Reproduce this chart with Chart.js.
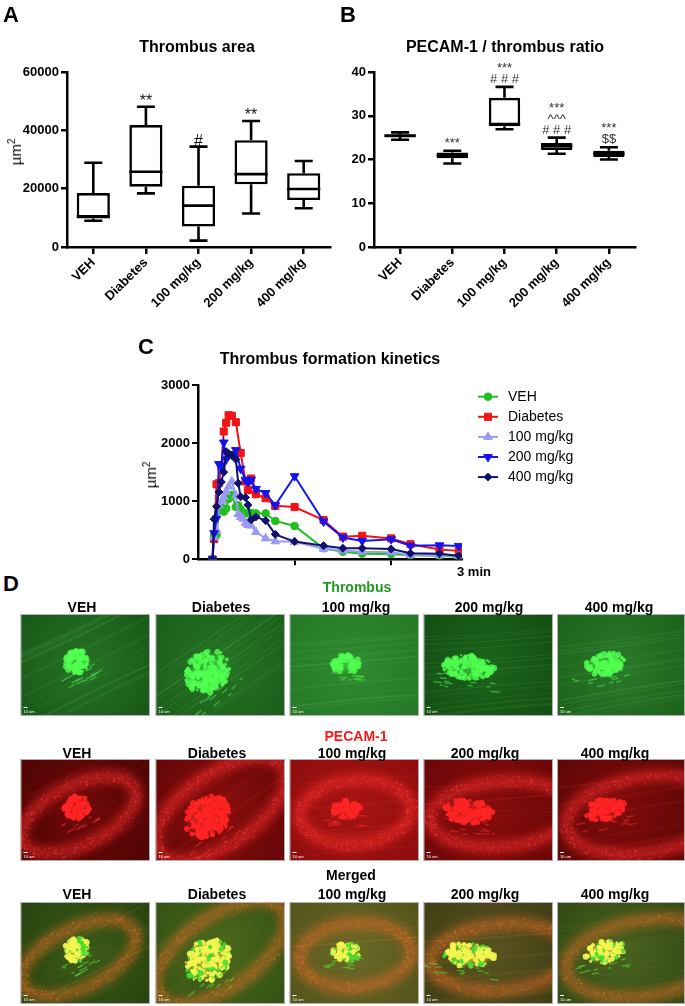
<!DOCTYPE html>
<html><head><meta charset="utf-8">
<script src="https://cdn.jsdelivr.net/npm/chart.js@4.4.1/dist/chart.umd.min.js"></script>
<style>
body{margin:0;width:685px;height:1006px;background:#fff;position:relative;overflow:hidden;font-family:"Liberation Sans",Arial,sans-serif;}
.t{position:absolute;white-space:nowrap;color:#000;line-height:1;transform:translate(-50%,-50%);}
.big{font-weight:bold;font-size:22px;}
.ttl{font-weight:bold;font-size:16px;}
.yt{font-size:15px;transform:translate(-50%,-50%) rotate(-90deg);}
.yt sup{font-size:10px;}
.col{font-weight:bold;font-size:14px;}
canvas{position:absolute;}
</style></head><body>
<canvas id="cA" width="340" height="340" style="left:0;top:0"></canvas>
<canvas id="cB" width="345" height="340" style="left:340px;top:0"></canvas>
<canvas id="cC" width="500" height="245" style="left:130px;top:335px"></canvas>
<canvas id="imgs" width="685" height="406" style="left:0;top:600px"></canvas>

<div class="t big" style="left:11px;top:15px">A</div>
<div class="t big" style="left:348px;top:15px">B</div>
<div class="t big" style="left:146px;top:347px">C</div>
<div class="t big" style="left:11px;top:584px">D</div>
<div class="t ttl" style="left:197px;top:47px">Thrombus area</div>
<div class="t ttl" style="left:505px;top:47px">PECAM-1 / thrombus ratio</div>
<div class="t ttl" style="left:330px;top:359px">Thrombus formation kinetics</div>
<div class="t yt" style="left:15px;top:152px">µm<sup>2</sup></div>
<div class="t yt" style="left:150px;top:475px">µm<sup>2</sup></div>
<div class="t col" style="left:474px;top:571px;font-size:13px">3 min</div>

<div class="t col" style="left:357px;top:587px;color:#1f9a1f">Thrombus</div>
<div class="t col" style="left:356px;top:736px;color:#ff1a1a">PECAM-1</div>
<div class="t col" style="left:351px;top:875px">Merged</div>
<div id="labels"></div>

<script>
// ---------- DATA ----------
const categories = ['VEH', 'Diabetes', '100 mg/kg', '200 mg/kg', '400 mg/kg'];

// Panel A: Thrombus area (µm²) box plot
const areaMin    = [9000, 18400, 2200, 11500, 13300];
const areaQ1     = [9800, 20700, 7000, 21500, 16100];
const areaMedian = [10500, 25800, 14200, 25000, 19900];
const areaQ3     = [18500, 41800, 21000, 36600, 25300];
const areaMax    = [28900, 48100, 34400, 43200, 29500];
const areaMarks  = [[], ['**'], ['#'], ['**'], []];
const areaTicks  = [0, 20000, 40000, 60000];

// Panel B: PECAM-1 / thrombus ratio box plot
const ratioMin    = [24.5, 19.1, 26.9, 21.3, 20.0];
const ratioQ1     = [25.2, 20.3, 27.6, 22.2, 20.6];
const ratioMedian = [25.4, 20.9, 28.1, 23.1, 21.3];
const ratioQ3     = [25.8, 21.6, 34.1, 23.8, 22.0];
const ratioMax    = [26.2, 22.0, 36.6, 25.0, 22.8];
const ratioMarks  = [[], ['***'], ['# # #', '***'], ['# # #', '^^^', '***'], ['$$', '***']];
const ratioTicks  = [0, 10, 20, 30, 40];

// Panel C: Thrombus formation kinetics (time in s, area in µm²)
const kineticsTime = [9, 10, 11.5, 13, 14.5, 16, 17.5, 19, 21, 23.5, 25, 26.5, 28, 29.5, 31, 33, 36, 42, 48, 60, 78, 90, 102, 120, 132, 150, 162];
const kinVEH      = [0, 410, 420, 840, 900, 820, 870, 1040, 1110, 900, 930, 860, null, 800, 790, 800, 790, 790, 660, 573, 190, 131, 97, 91, 69, 62, 45];
const kinDiabetes = [0, 350, 1290, 1310, 1600, 2200, 2350, 2480, 2470, 2360, null, 1830, null, 1340, 1190, 1390, 1120, 1050, 920, 900, 675, 390, 405, 360, 260, 170, 145];
const kin100      = [0, 380, 500, 930, 1000, 1070, 1160, 1250, 1340, 1100, 780, 730, 700, 620, 590, 580, 470, 360, 310, 300, 180, 150, 130, 120, 75, 70, 60];
const kin200      = [0, 450, 700, 1640, 1600, 2010, 1720, 1790, 1810, 1880, null, 1560, null, 1370, 1330, 1370, 1210, 1140, 930, 1430, 650, 375, 315, 345, 235, 240, 230];
const kin400      = [0, 690, 910, 1160, 1330, 1500, 1850, 1820, 1790, 1720, 1310, 1075, null, 1065, 935, 680, 730, 665, 430, 305, 235, 190, 190, 177, 103, 97, 62];
const kinYTicks   = [0, 1000, 2000, 3000];
const kinXTicks   = [60, 120];

// ---------- CHARTS ----------
const FF = '"Liberation Sans", Arial, sans-serif';
Chart.defaults.font.family = FF;
Chart.defaults.color = '#000';

const boxPlugin = {
  id: 'boxWhisker',
  afterDatasetsDraw(chart) {
    const cfg = chart.options.plugins.boxWhisker;
    const s = cfg.stats;
    const meta = chart.getDatasetMeta(0);
    const ys = chart.scales.y;
    const ctx = chart.ctx;
    ctx.save();
    ctx.strokeStyle = '#000';
    ctx.lineWidth = 2.6;
    meta.data.forEach((bar, i) => {
      const x = bar.x, hw = bar.width / 2, cw = cfg.capWidth / 2;
      const pMin = ys.getPixelForValue(s.min[i]), pMax = ys.getPixelForValue(s.max[i]);
      const pQ1 = ys.getPixelForValue(s.q1[i]), pQ3 = ys.getPixelForValue(s.q3[i]);
      const pMed = ys.getPixelForValue(s.med[i]);
      ctx.beginPath();
      ctx.moveTo(x - hw, pMed); ctx.lineTo(x + hw, pMed);
      ctx.moveTo(x, pQ3); ctx.lineTo(x, pMax);
      ctx.moveTo(x - cw, pMax); ctx.lineTo(x + cw, pMax);
      ctx.moveTo(x, pQ1); ctx.lineTo(x, pMin);
      ctx.moveTo(x - cw, pMin); ctx.lineTo(x + cw, pMin);
      ctx.stroke();
      ctx.fillStyle = cfg.markColor;
      ctx.font = cfg.markFont;
      ctx.textAlign = 'center';
      ctx.textBaseline = 'alphabetic';
      (s.marks[i] || []).forEach((m, k) => ctx.fillText(m, x, pMax - cfg.markGap - k * cfg.markStep));
    });
    ctx.restore();
  }
};

function boxChart(id, stats, ticks, yWidth, padRight, barPct, markCfg) {
  return new Chart(document.getElementById(id), {
    type: 'bar',
    data: {
      labels: categories,
      datasets: [{
        data: categories.map((c, i) => [stats.q1[i], stats.q3[i]]),
        backgroundColor: '#fff', borderColor: '#000', borderWidth: 2.6,
        borderSkipped: false, barPercentage: barPct, categoryPercentage: 1
      }]
    },
    options: {
      responsive: false, animation: false, events: [],
      layout: { padding: { top: 72, right: padRight, left: 0, bottom: 0 } },
      plugins: {
        legend: { display: false }, tooltip: { enabled: false },
        boxWhisker: Object.assign({ stats, capWidth: 18 }, markCfg)
      },
      scales: {
        x: {
          offset: true,
          grid: { offset: false, drawOnChartArea: false, tickLength: 7, color: '#000', lineWidth: 2.5 },
          border: { display: true, color: '#000', width: 2.5 },
          ticks: { color: '#000', font: { size: 13, weight: 'bold' }, minRotation: 45, maxRotation: 45, padding: 1 },
          afterFit(sc) { sc.height = 93; }
        },
        y: {
          min: ticks[0], max: ticks[ticks.length - 1],
          afterBuildTicks(sc) { sc.ticks = ticks.map(v => ({ value: v })); },
          ticks: { color: '#000', font: { size: 13, weight: 'bold' }, padding: 2, callback: v => String(v) },
          grid: { drawOnChartArea: false, tickLength: 6, color: '#000', lineWidth: 2.5 },
          border: { display: true, color: '#000', width: 2.5 },
          afterFit(sc) { sc.width = yWidth; }
        }
      }
    },
    plugins: [boxPlugin]
  });
}

boxChart('cA', { min: areaMin, q1: areaQ1, med: areaMedian, q3: areaQ3, max: areaMax, marks: areaMarks },
  areaTicks, 67, 10, 0.63, { markFont: '16px ' + FF, markColor: '#111', markGap: 1, markStep: 12 });
boxChart('cB', { min: ratioMin, q1: ratioQ1, med: ratioMedian, q3: ratioQ3, max: ratioMax, marks: ratioMarks },
  ratioTicks, 34, 50, 0.6, { markFont: '13px ' + FF, markColor: '#333', markGap: 4, markStep: 11 });

const kinLegend = {
  id: 'kinLegend',
  afterDraw(chart) {
    const ctx = chart.ctx, a = chart.chartArea;
    ctx.save();
    chart.data.datasets.forEach((ds, i) => {
      const y = a.top + 11.7 + 20.1 * i;
      const x = a.right + 16;
      ctx.strokeStyle = ds.borderColor; ctx.lineWidth = 2;
      ctx.beginPath(); ctx.moveTo(x, y); ctx.lineTo(x + 20, y); ctx.stroke();
      ctx.fillStyle = ds.pointBackgroundColor; ctx.strokeStyle = ds.borderColor; ctx.lineWidth = 1;
      Chart.helpers.drawPoint(ctx, { pointStyle: ds.pointStyle, rotation: ds.pointRotation || 0, radius: ds.pointRadius, borderWidth: 1 }, x + 10, y);
      ctx.fillStyle = '#000'; ctx.font = '14px ' + FF; ctx.textBaseline = 'middle'; ctx.textAlign = 'left';
      ctx.fillText(ds.label, a.right + 46, y);
    });
    ctx.restore();
  }
};

function series(label, arr, color, style, radius, rot, order) {
  return {
    label, data: kineticsTime.map((t, i) => ({ x: t, y: arr[i] })),
    borderColor: color, backgroundColor: color, pointBackgroundColor: color, pointBorderColor: color,
    pointStyle: style, pointRadius: radius, pointRotation: rot, borderWidth: 2, pointBorderWidth: 1,
    spanGaps: true, order, tension: 0
  };
}

new Chart(document.getElementById('cC'), {
  type: 'line',
  data: {
    datasets: [
      series('VEH', kinVEH, '#1fbf1f', 'circle', 3.8, 0, 3),
      series('Diabetes', kinDiabetes, '#f01414', 'rect', 5, 0, 4),
      series('100 mg/kg', kin100, '#9a9af2', 'triangle', 5, 0, 2),
      series('200 mg/kg', kin200, '#1414ee', 'triangle', 5, 180, 1),
      series('400 mg/kg', kin400, '#10106e', 'rectRot', 4, 0, 0)
    ]
  },
  options: {
    responsive: false, animation: false, events: [],
    layout: { padding: { top: 50, right: 168, left: 0, bottom: 0 } },
    plugins: { legend: { display: false }, tooltip: { enabled: false } },
    scales: {
      x: {
        type: 'linear', min: 0, max: 164,
        afterBuildTicks(sc) { sc.ticks = kinXTicks.map(v => ({ value: v })); },
        ticks: { callback: () => '' },
        grid: { drawOnChartArea: false, tickLength: 6, color: '#000', lineWidth: 2 },
        border: { display: true, color: '#000', width: 2.5 },
        afterFit(sc) { sc.height = 20.7; }
      },
      y: {
        min: 0, max: 3000,
        afterBuildTicks(sc) { sc.ticks = kinYTicks.map(v => ({ value: v })); },
        ticks: { color: '#000', font: { size: 13, weight: 'bold' }, padding: 2, callback: v => String(v) },
        grid: { drawOnChartArea: false, tickLength: 6, color: '#000', lineWidth: 2 },
        border: { display: true, color: '#000', width: 2.5 },
        afterFit(sc) { sc.width = 68; }
      }
    }
  },
  plugins: [kinLegend]
});

// ---------- PANEL D (micrograph illustrations) ----------
const rowLabelX = [[82, 221, 356, 489, 619], [77, 217, 352, 485, 615], [77, 217, 352, 485, 615]];
const rowLabelY = [607, 753, 894];
const lab = document.getElementById('labels');
rowLabelX.forEach((xs, r) => xs.forEach((x, c) => {
  const d = document.createElement('div');
  d.className = 't col';
  d.style.left = x + 'px'; d.style.top = rowLabelY[r] + 'px';
  d.textContent = categories[c];
  lab.appendChild(d);
}));

const ic = document.getElementById('imgs').getContext('2d');
const colX = [20.5, 155.5, 289.5, 423.5, 557];
const rowTop = [614, 759, 902];
const PH = 102;
function hsh(n) { const s = Math.sin(n * 127.1 + 311.7) * 43758.5453; return s - Math.floor(s); }

const blobs = [
  { cx: 56, cy: 48, rx: 13, ry: 12, rot: -0.5, n: 90 },
  { cx: 52, cy: 58, rx: 24, ry: 20, rot: -0.7, n: 200 },
  { cx: 57, cy: 50, rx: 14, ry: 9, rot: 0.0, n: 60 },
  { cx: 45, cy: 53, rx: 26, ry: 12, rot: 0.1, n: 150 },
  { cx: 48, cy: 50, rx: 20, ry: 11, rot: -0.2, n: 110 }
];
const rings = [
  { cx: 58, cy: 56, rx: 62, ry: 30, rot: -0.45 },
  { cx: 65, cy: 50, rx: 75, ry: 36, rot: -0.6 },
  { cx: 66, cy: 53, rx: 56, ry: 32, rot: -0.08 },
  { cx: 78, cy: 55, rx: 72, ry: 33, rot: -0.08 },
  { cx: 88, cy: 56, rx: 80, ry: 38, rot: -0.15 }
];
const bgs = [
  [['#267026', '#135213'], ['#267226', '#165816'], ['#2f8a2f', '#237223'], ['#1c621c', '#104810'], ['#2a782a', '#175c17']],
  [['#6e0808', '#460303'], ['#880d0d', '#5a0505'], ['#a41313', '#880b0b'], ['#860c0c', '#640606'], ['#7e0b0b', '#540505']],
  [['#3a5818', '#223e0c'], ['#4a681c', '#2c4a10'], ['#686826', '#4e4e18'], ['#58521f', '#3a3812'], ['#48601f', '#2c4410']]
];

function drawPanel(r, c) {
  const x0 = colX[c], y0 = rowTop[r] - 600;
  const w = c === 4 ? 685 - x0 : 129.5, h = PH;
  const b = blobs[c], rg = rings[c];
  const seed = c * 1000 + r * 17;
  ic.save();
  ic.beginPath(); ic.rect(x0, y0, w, h); ic.clip();
  const g = ic.createRadialGradient(x0 + w * 0.5, y0 + h * 0.5, 5, x0 + w * 0.5, y0 + h * 0.5, w * 0.8);
  g.addColorStop(0, bgs[r][c][0]); g.addColorStop(1, bgs[r][c][1]);
  ic.fillStyle = g; ic.fillRect(x0, y0, w, h);

  // flow streaks
  ic.save();
  ic.translate(x0 + rg.cx, y0 + rg.cy); ic.rotate(rg.rot);
  ic.filter = 'blur(0.6px)';
  for (let k = 0; k < 14; k++) {
    const off = (hsh(seed + k * 7) - 0.5) * 90;
    ic.strokeStyle = r === 0 ? 'rgba(120,220,120,0.09)' : (r === 1 ? 'rgba(255,90,90,0.06)' : 'rgba(200,160,60,0.07)');
    ic.lineWidth = 0.8 + hsh(seed + k * 3) * 1.2;
    ic.beginPath(); ic.moveTo(-100, off); ic.quadraticCurveTo(0, off * 0.8, 100, off * 0.95); ic.stroke();
  }
  ic.filter = 'none';
  ic.restore();

  // vessel wall ring (PECAM-1)
  if (r > 0) {
    ic.save();
    ic.translate(x0 + rg.cx, y0 + rg.cy); ic.rotate(rg.rot);
    ic.filter = 'blur(4px)';
    ic.strokeStyle = r === 1 ? 'rgba(255,45,45,0.5)' : 'rgba(225,105,40,0.5)';
    ic.lineWidth = 13;
    ic.beginPath(); ic.ellipse(0, 0, rg.rx, rg.ry, 0, 0, Math.PI * 2); ic.stroke();
    ic.filter = 'none';
    for (let k = 0; k < 220; k++) {
      const a = hsh(seed + k * 1.3) * Math.PI * 2;
      const j = (hsh(seed + k * 2.7) - 0.5) * 12;
      const px = (rg.rx + j) * Math.cos(a), py = (rg.ry + j) * Math.sin(a);
      ic.fillStyle = r === 1 ? 'rgba(255,70,70,0.35)' : 'rgba(235,120,50,0.35)';
      ic.fillRect(px, py, 1.6, 1.6);
    }
    ic.restore();
  }

  // thrombus blob
  ic.save();
  ic.translate(x0 + b.cx, y0 + b.cy); ic.rotate(b.rot);
  ic.filter = 'blur(2px)';
  ic.fillStyle = r === 0 ? 'rgba(70,230,70,0.55)' : (r === 1 ? 'rgba(255,40,40,0.6)' : 'rgba(220,220,60,0.55)');
  ic.beginPath(); ic.ellipse(0, 0, b.rx * 0.8, b.ry * 0.8, 0, 0, Math.PI * 2); ic.fill();
  ic.filter = 'none';
  for (let k = 0; k < b.n; k++) {
    const u = Math.sqrt(hsh(seed + k * 3.1)), a = hsh(seed + k * 5.3) * Math.PI * 2;
    const px = u * b.rx * Math.cos(a), py = u * b.ry * Math.sin(a);
    const rad = 1 + hsh(seed + k * 9.7) * 2.2;
    let col;
    if (r === 0) col = 'rgba(80,255,80,0.8)';
    else if (r === 1) col = 'rgba(255,35,35,0.9)';
    else col = hsh(seed + k * 4.4) < 0.25 ? 'rgba(70,220,50,0.9)' : 'rgba(245,245,80,0.9)';
    ic.fillStyle = col;
    ic.beginPath(); ic.arc(px, py, rad, 0, Math.PI * 2); ic.fill();
  }
  for (let k = 0; k < 14; k++) {
    const px = -b.rx * 1.8 + hsh(seed + k * 6.1) * b.rx * 2.8;
    const py = b.ry * 0.6 + hsh(seed + k * 8.3) * b.ry * 1.2;
    ic.fillStyle = r === 0 ? 'rgba(80,240,80,0.5)' : (r === 1 ? 'rgba(255,50,50,0.45)' : 'rgba(90,230,60,0.5)');
    ic.fillRect(px, py, 3 + hsh(seed + k) * 6, 1.5);
  }
  ic.restore();

  // scale bar
  ic.fillStyle = '#fff';
  ic.fillRect(x0 + 3, y0 + h - 9, 4, 1);
  ic.font = '4px ' + FF; ic.fillText('10 um', x0 + 3, y0 + h - 3);
  ic.restore();
  ic.strokeStyle = 'rgba(190,190,190,0.9)'; ic.lineWidth = 1;
  ic.strokeRect(x0 + 0.5, y0 + 0.5, w - 1, h - 1);
}
for (let r = 0; r < 3; r++) for (let c = 0; c < 5; c++) drawPanel(r, c);
</script>
</body></html>
